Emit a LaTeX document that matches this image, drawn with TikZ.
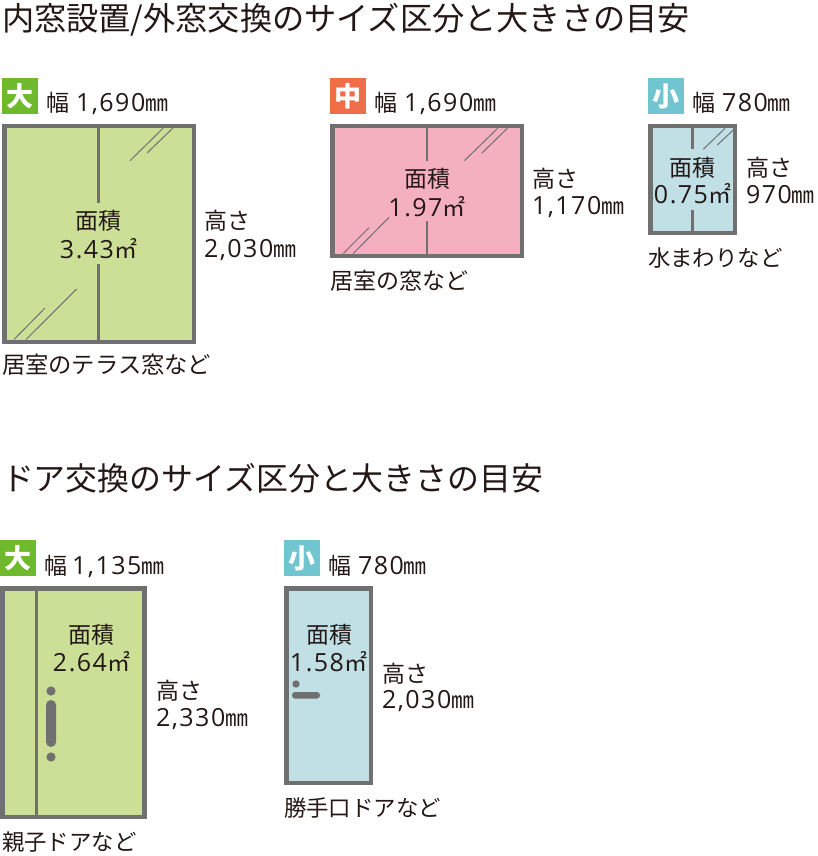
\documentclass[tikz,border=0pt]{standalone}
\usepackage{fontspec}
\setmainfont{Noto Sans CJK JP}
\newfontfamily\digf[LetterSpace=6]{Open Sans}
\definecolor{ink}{HTML}{231815}
\definecolor{frameg}{HTML}{717071}
\definecolor{gfill}{HTML}{CCDF97}
\definecolor{pfill}{HTML}{F4B0BF}
\definecolor{bfill}{HTML}{C0E0E6}
\definecolor{gbadge}{HTML}{6FB92C}
\definecolor{obadge}{HTML}{EF6E48}
\definecolor{bbadge}{HTML}{71C5D1}
\newcommand{\dg}[1]{{\digf\fontsize{25}{25}\selectfont #1}}
\newcommand{\hb}{幅\hspace{7pt}}
\tikzset{
  txt/.style={inner sep=0pt,outer sep=0pt,text=ink,font=\fontsize{23}{23}\selectfont},
  lab/.style={txt,anchor=base west},
  mid/.style={txt,anchor=base},
  nar/.style={font=\fontsize{22.4}{23}\selectfont},
  ttl/.style={inner sep=0pt,outer sep=0pt,text=ink,anchor=base west,font=\fontsize{32.2}{33}\selectfont},
  badge/.style={inner sep=0pt,outer sep=0pt,minimum size=36pt,text=white,font=\bfseries\fontsize{27}{27}\selectfont},
  pane/.style={draw=frameg,line width=4.5pt},
  bar/.style={draw=frameg,line width=2.8pt},
  glass/.style={draw=frameg,line width=1pt},
  hw/.style={fill=frameg,draw=none}
}
\begin{document}
\begin{tikzpicture}[x=1pt,y=-1pt]
\useasboundingbox (0,0) rectangle (818,856);
% titles
\node[ttl] (t1) at (2,31) {内窓設置/外窓交換のサイズ区分と大きさの目安};
\node[ttl,font=\fontsize{31.9}{33}\selectfont] (t2) at (2,490) {ドア交換のサイズ区分と大きさの目安};
% large window
\node[badge,fill=gbadge] (b1) at (20,96) {大};
\node[lab] (w1) at (46,112) {\hb\dg{1,690}㎜};
\draw[pane,fill=gfill] (4.25,126.25) rectangle (193.75,341.75);
\draw[bar] (98.5,128) -- (98.5,203) (98.5,264) -- (98.5,340);
\draw[glass] (130,160.7) -- (163,128.3) (147,153) -- (172.7,128.3);
\draw[glass] (14,339.5) -- (45,308) (26,339.5) -- (76.7,289);
\node[mid] (a1) at (98.5,229) {面積};
\node[mid] (v1) at (98.5,258) {\dg{3.43}㎡};
\node[lab] (h1) at (204,229) {高さ};
\node[lab] (d1) at (204,257) {\dg{2,030}㎜};
\node[lab,font=\fontsize{23.3}{24}\selectfont] (c1) at (2,373) {居室のテラス窓など};
% medium window
\node[badge,fill=obadge] (b2) at (348,96) {中};
\node[lab] (w2) at (374,112) {\hb\dg{1,690}㎜};
\draw[pane,fill=pfill] (332.25,126.25) rectangle (521.75,255.75);
\draw[bar] (427,128) -- (427,161) (427,221) -- (427,254);
\draw[glass] (464.3,160.7) -- (497.7,128.3) (481.7,153.3) -- (507.3,128.3);
\draw[glass] (343.3,253.5) -- (369,227.7) (353.3,253.5) -- (389,217.3);
\node[mid] (a2) at (427,187) {面積};
\node[mid] (v2) at (427,216) {\dg{1.97}㎡};
\node[lab] (h2) at (532,187) {高さ};
\node[lab] (d2) at (532,214) {\dg{1,170}㎜};
\node[lab] (c2) at (330.5,289) {居室の窓など};
% small window
\node[badge,fill=bbadge] (b3) at (666,96) {小};
\node[lab] (w3) at (692,112) {\hb\dg{780}㎜};
\draw[pane,fill=bfill] (650.25,126.25) rectangle (734.75,232.75);
\draw[bar] (692.5,128) -- (692.5,149) (692.5,210) -- (692.5,231);
\draw[glass] (703.3,149.3) -- (725,128.3) (717.3,145) -- (733.3,130);
\node[mid] (a3) at (692.5,176) {面積};
\node[mid] (v3) at (692.5,203) {\dg{0.75}㎡};
\node[lab] (h3) at (746,176) {高さ};
\node[lab] (d3) at (746,203) {\dg{970}㎜};
\node[lab,nar] (c3) at (648,266) {水まわりなど};
% large door
\node[badge,fill=gbadge] (b4) at (18,558) {大};
\node[lab] (w4) at (44,574) {幅 \dg{1,135}㎜};
\draw[pane,fill=gfill] (2.25,588.25) rectangle (144.5,816.75);
\draw[bar] (36.7,588) -- (36.7,817);
\fill[hw] (51,691) circle (4.6);
\fill[hw] (51,757) circle (4.6);
\fill[hw,rounded corners=4.9pt] (46,700) rectangle (56,747);
\node[mid] (a4) at (91.5,643) {面積};
\node[mid] (v4) at (91.5,671) {\dg{2.64}㎡};
\node[lab] (h4) at (156,699) {高さ};
\node[lab] (d4) at (156,726) {\dg{2,330}㎜};
\node[lab,nar] (c4) at (2,850) {親子ドアなど};
% small door
\node[badge,fill=bbadge] (b5) at (302,558) {小};
\node[lab] (w5) at (328,574) {\hb\dg{780}㎜};
\draw[pane,fill=bfill] (286.25,588.25) rectangle (370.75,782.75);
\fill[hw] (296,684) circle (3.7);
\fill[hw,rounded corners=3pt] (292,692) rectangle (320,698.5);
\node[mid] (a5) at (329.5,643) {面積};
\node[mid] (v5) at (328.5,671) {\dg{1.58}㎡};
\node[lab] (h5) at (382,682) {高さ};
\node[lab] (d5) at (382,708) {\dg{2,030}㎜};
\node[lab,nar] (c5) at (284,816) {勝手口ドアなど};
\end{tikzpicture}
\end{document}
